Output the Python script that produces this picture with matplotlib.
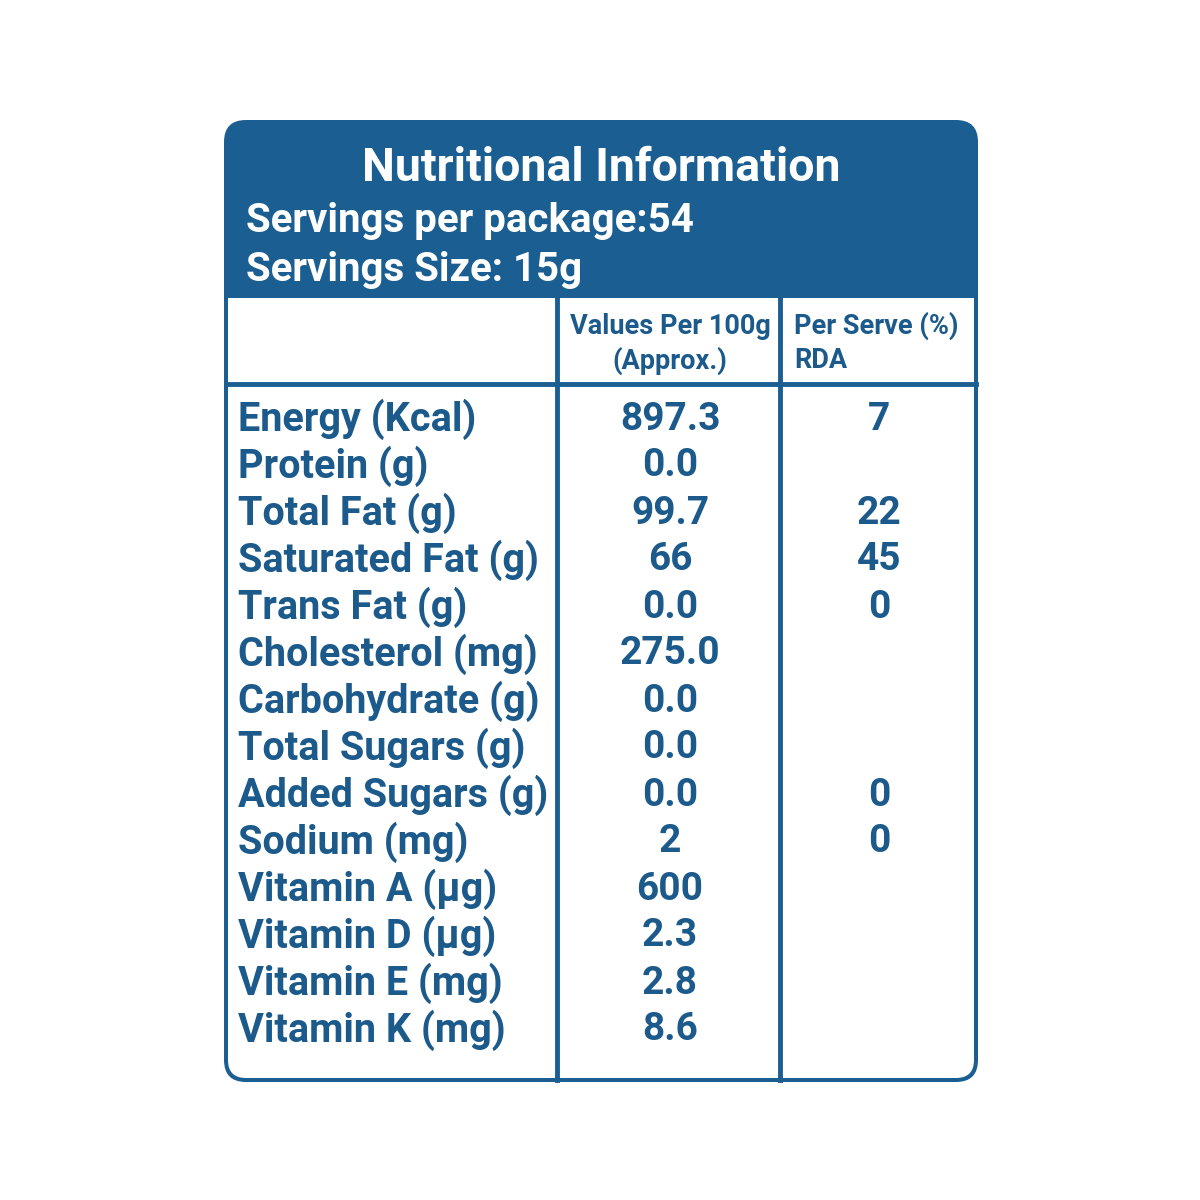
import matplotlib.pyplot as plt
from matplotlib.patches import FancyBboxPatch, Rectangle

BLUE = "#1a5e92"
TXT = "#1b5a8b"
FONT = ["Liberation Sans Narrow", "Roboto", "DejaVu Sans"]

title = "Nutritional Information"
servings = ["Servings per package:54", "Servings Size: 15g"]
col_heads = [("Values Per 100g", "(Approx.)"), ("Per Serve (%)", "RDA")]
nutrients = ["Energy (Kcal)", "Protein (g)", "Total Fat (g)", "Saturated Fat (g)",
             "Trans Fat (g)", "Cholesterol (mg)", "Carbohydrate (g)", "Total Sugars (g)",
             "Added Sugars (g)", "Sodium (mg)", "Vitamin A (µg)", "Vitamin D (µg)",
             "Vitamin E (mg)", "Vitamin K (mg)"]
per_100g = ["897.3", "0.0", "99.7", "66", "0.0", "275.0", "0.0", "0.0", "0.0",
            "2", "600", "2.3", "2.8", "8.6"]
rda = ["7", "", "22", "45", "0", "", "", "", "0", "0", "", "", "", ""]

fig = plt.figure(figsize=(12, 12), dpi=100)
ax = fig.add_axes([0, 0, 1, 1])
ax.set_xlim(0, 1200)
ax.set_ylim(1200, 0)
ax.axis("off")

# outer box (blue), then white body with rounded bottom
ax.add_patch(FancyBboxPatch((224 + 22, 120 + 22), 754 - 44, 962 - 44,
                            boxstyle="round,pad=22", fc=BLUE, ec="none"))
ax.add_patch(FancyBboxPatch((228 + 18, 298 + 18), 746 - 36, 780 - 36,
                            boxstyle="round,pad=18", fc="white", ec="none"))
ax.add_patch(Rectangle((228, 298), 746, 60, fc="white", ec="none"))

# grid lines
for x in (557, 780):
    ax.plot([x, x], [298, 1080], color=BLUE, lw=3.5)
ax.plot([226, 976], [384, 384], color=BLUE, lw=3.5)

ax.text(601, 168, title, color="white", fontsize=33.5, fontweight="bold",
        family=FONT, ha="center", va="center")
for i, s in enumerate(servings):
    ax.text(246, 221 + i * 49, s, color="white", fontsize=29, fontweight="bold",
            family=FONT, ha="left", va="center")

ax.text(670, 326, col_heads[0][0], color=TXT, fontsize=19.5, fontweight="bold",
        family=FONT, ha="center", va="center")
ax.text(670, 361, col_heads[0][1], color=TXT, fontsize=19.5, fontweight="bold",
        family=FONT, ha="center", va="center")
ax.text(794, 326, col_heads[1][0], color=TXT, fontsize=19.5, fontweight="bold",
        family=FONT, ha="left", va="center")
ax.text(794, 361, col_heads[1][1], color=TXT, fontsize=19.5, fontweight="bold",
        family=FONT, ha="left", va="center")

step = (1030 - 419) / (len(nutrients) - 1)
for i, (n, v, r) in enumerate(zip(nutrients, per_100g, rda)):
    y = 419 + i * step
    ax.text(238, y, n, color=TXT, fontsize=28.5, fontweight="bold", family=FONT,
            ha="left", va="center")
    ax.text(670, y, v, color=TXT, fontsize=28, fontweight="bold", family=FONT,
            ha="center", va="center")
    if r:
        ax.text(879, y, r, color=TXT, fontsize=28, fontweight="bold", family=FONT,
                ha="center", va="center")

fig.savefig("out.png", dpi=100, facecolor="white")
